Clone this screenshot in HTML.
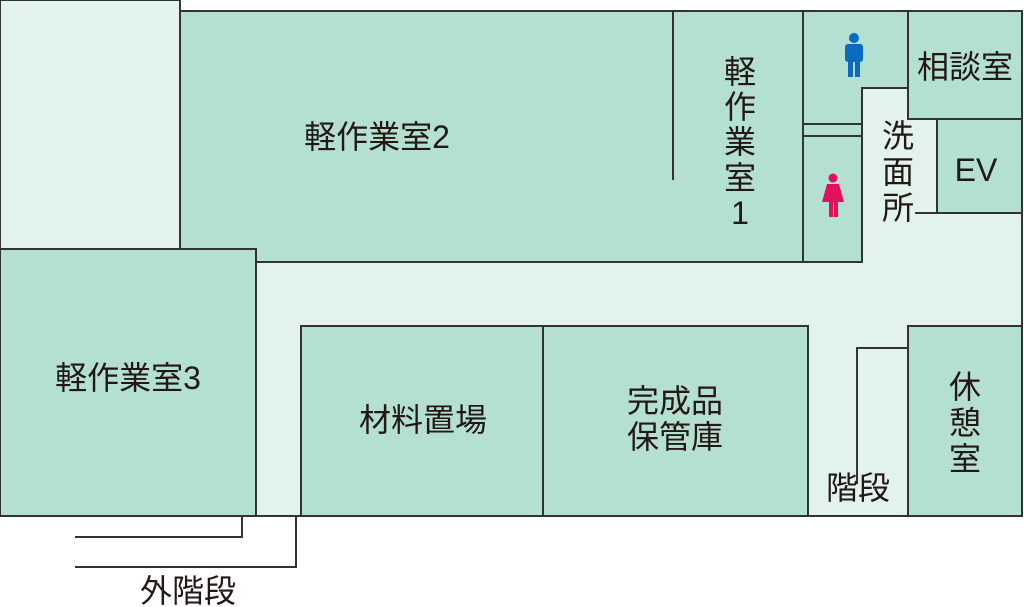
<!DOCTYPE html>
<html><head><meta charset="utf-8"><style>
html,body{margin:0;padding:0;background:#fff}
svg{display:block}
text{font-family:"Liberation Sans","Noto Sans CJK JP",sans-serif;font-size:32px;fill:#231815;text-anchor:middle;dominant-baseline:central}
</style></head><body>
<svg width="1024" height="607" viewBox="0 0 1024 607" xmlns="http://www.w3.org/2000/svg">
<g stroke="#333" stroke-width="2">
<rect x="0" y="0" width="180" height="249" fill="#e2f2ec"/>
<rect x="180" y="11" width="842" height="505" fill="#e2f2ec"/>
<g fill="#b3e0d0">
<rect x="180" y="11" width="623" height="251"/>
<path d="M803 11 H908 V88 H862 V262 H803 Z"/>
<rect x="908" y="11" width="114" height="108"/>
<rect x="937" y="119" width="85" height="94"/>
<rect x="0" y="249" width="256" height="267"/>
<rect x="301" y="326" width="242" height="190"/>
<rect x="543" y="326" width="265" height="190"/>
<rect x="908" y="326" width="114" height="190"/>
</g>
<g fill="none">
<line x1="673" y1="11" x2="673" y2="180"/>
<line x1="803" y1="124" x2="862" y2="124"/>
<line x1="803" y1="136" x2="862" y2="136"/>
<line x1="915" y1="213" x2="937" y2="213"/>
<polyline points="857,484 857,348 908,348"/>
<polyline points="242,516 242,537 75,537"/>
<polyline points="296,516 296,567 75,567"/>
</g>
</g>
<g fill="#0a6cbf">
<circle cx="854" cy="38" r="5"/>
<rect x="845" y="44" width="18" height="18" rx="3"/>
<rect x="848" y="58" width="5" height="19"/>
<rect x="855" y="58" width="5" height="19"/>
</g>
<g fill="#e4105e">
<circle cx="833" cy="178" r="4.5"/>
<path d="M827 184 H839 L844 202 H822 Z"/>
<rect x="829" y="200" width="4" height="17"/>
<rect x="834" y="200" width="4" height="17"/>
</g>
<text x="377" y="137">軽作業室2</text>
<text x="740" y="72">軽</text>
<text x="740" y="107">作</text>
<text x="740" y="142">業</text>
<text x="740" y="178">室</text>
<text x="740" y="213">1</text>
<text x="965" y="67">相談室</text>
<text x="976" y="170">EV</text>
<text x="898" y="136">洗</text>
<text x="898" y="172">面</text>
<text x="898" y="208">所</text>
<text x="128" y="378">軽作業室3</text>
<text x="423" y="420">材料置場</text>
<text x="675" y="401">完成品</text>
<text x="675" y="437">保管庫</text>
<text x="965" y="387">休</text>
<text x="965" y="423">憩</text>
<text x="965" y="459">室</text>
<text x="858" y="488">階段</text>
<text x="188" y="591">外階段</text>
</svg>
</body></html>
